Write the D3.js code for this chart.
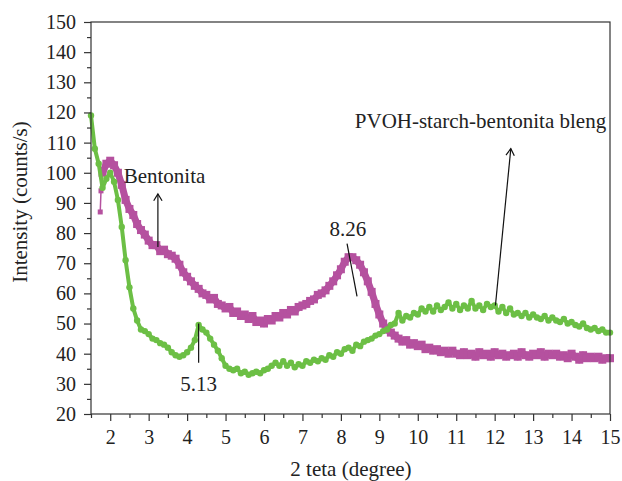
<!DOCTYPE html>
<html>
<head>
<meta charset="utf-8">
<script src="https://cdn.jsdelivr.net/npm/d3@7"></script>
<style>
  body { margin: 0; background: #fff; }
  text { font-family: "Liberation Serif", "DejaVu Serif", serif; fill: #222; }
</style>
</head>
<body>
<div id="chart"></div>
<script>
// x positions (2 teta), 0.1 degree steps
const greenX = d3.range(136).map(i => +(1.5 + i * 0.1).toFixed(2))
const greenY = [
  119, 108, 103, 95, 98, 100, 97, 91, 82, 71,
  62, 55, 51, 48, 47.5, 46.5, 45, 44.5, 43.5, 43,
  42, 40.5, 39.5, 39, 39.5, 40.5, 42, 44.5, 49.5, 48,
  47, 45, 43, 41, 38.5, 36, 35, 34.5, 35, 33.5,
  34, 33, 33.5, 34, 33.5, 34.5, 35, 36, 37, 36,
  37.5, 36, 37, 35.5, 36.5, 36, 37.5, 37, 38, 37.5,
  38.5, 38, 39.5, 39, 40.5, 40, 41.5, 42, 41, 43,
  42.5, 44, 44.5, 45, 46, 46.5, 47.5, 48, 49.5, 50,
  53.5, 51, 52.5, 52, 53.5, 53, 55, 54, 55.5, 54,
  56, 54.5, 55.5, 57, 55, 56.5, 54.5, 56, 55, 57.5,
  55, 56, 54.5, 56.5, 55.5, 56, 54, 55.5, 53.5, 55,
  53, 53.5, 52.5, 53.5, 52, 53, 52, 51.5, 52.5, 51,
  52, 51, 50.5, 51.5, 50, 50.5, 49.5, 49, 50, 48.5,
  48, 48.5, 47.5, 48, 47, 47
]

const magentaX = [1.74, 1.76].concat(d3.range(133).map(i => +(1.8 + i * 0.1).toFixed(2)))
const magentaY = [
  87, 94,
  100, 103, 104, 102.5, 100, 96, 91, 88, 86, 83,
  81, 79.5, 77.5, 76, 76, 74, 74.5, 73, 72.5, 71.5,
  69.5, 67, 65.5, 64, 62.5, 61.5, 60, 59.5, 58, 58.5,
  56.5, 56, 55, 55.5, 53.5, 54, 52.5, 53, 51.5, 52.5,
  50.5, 51, 50, 51.5, 51, 52.5, 52, 53.5, 53, 54.5,
  54, 55.5, 56, 56.5, 57.5, 58, 59.5, 60, 61, 62.5,
  64, 66, 68, 70.5, 72, 72, 71, 69.5, 67, 64,
  60.5, 56.5, 53, 50, 48, 47, 46, 45, 44, 44.5,
  43, 43.5, 42.5, 43, 41.5, 42, 41, 41.5, 40.5, 41,
  40, 41, 40, 39.5, 40.5, 39.5, 40, 39, 40.5, 39.5,
  40, 39, 40.5, 39.5, 40, 39, 39.5, 40, 39, 40.5,
  39.5, 39, 40, 39.5, 40.5, 39, 40, 39.5, 40, 39,
  39.5, 38.5, 40, 39, 38, 39.5, 38.5, 39, 38.5, 39,
  38, 38.5, 38.5
]

const xTicks = d3.range(2, 16)
const yTicks = d3.range(20, 151, 10)

const W = 622, H = 481
const margin = { top: 22, right: 12, bottom: 67, left: 91 }
const width = W - margin.left - margin.right
const height = H - margin.top - margin.bottom

const svg = d3.select('#chart').append('svg')
  .attr('width', W)
  .attr('height', H)

const g = svg.append('g')
  .attr('transform', 'translate(' + margin.left + ',' + margin.top + ')')

const x = d3.scaleLinear().domain([1.5, 15]).range([0, width])
const y = d3.scaleLinear().domain([20, 150]).range([height, 0])

const magColor = '#b5519f'
const grnColor = '#6cbf45'

const magData = magentaX.map((v, i) => [v, magentaY[i]])
const grnData = greenX.map((v, i) => [v, greenY[i]])

const line = d3.line().x(d => x(d[0])).y(d => y(d[1]))

// bentonita (magenta squares) - thin lead-in then thick band
g.append('path')
  .datum(magData.slice(0, 3))
  .attr('fill', 'none')
  .attr('stroke', magColor)
  .attr('stroke-width', 1.5)
  .attr('d', line)

g.append('path')
  .datum(magData.slice(2))
  .attr('fill', 'none')
  .attr('stroke', magColor)
  .attr('stroke-width', 7)
  .attr('stroke-linejoin', 'round')
  .attr('d', line)

g.selectAll('.msq')
  .data(magData.slice(2))
  .enter()
  .append('rect')
  .attr('class', 'msq')
  .attr('x', d => x(d[0]) - 4)
  .attr('y', d => y(d[1]) - 4)
  .attr('width', 8)
  .attr('height', 8)
  .attr('fill', magColor)

g.selectAll('.msq0')
  .data(magData.slice(0, 2))
  .enter()
  .append('rect')
  .attr('x', d => x(d[0]) - 2.5)
  .attr('y', d => y(d[1]) - 2.5)
  .attr('width', 5)
  .attr('height', 5)
  .attr('fill', magColor)

// blend (green dots)
g.append('path')
  .datum(grnData)
  .attr('fill', 'none')
  .attr('stroke', grnColor)
  .attr('stroke-width', 4)
  .attr('stroke-linejoin', 'round')
  .attr('d', line)

g.selectAll('.gdot')
  .data(grnData)
  .enter()
  .append('circle')
  .attr('cx', d => x(d[0]))
  .attr('cy', d => y(d[1]))
  .attr('r', 3.2)
  .attr('fill', grnColor)

// frame
g.append('rect')
  .attr('width', width)
  .attr('height', height)
  .attr('fill', 'none')
  .attr('stroke', '#333')
  .attr('stroke-width', 1.2)

// axes
const xAxis = d3.axisBottom(x).tickValues(xTicks).tickSize(7).tickPadding(9).tickFormat(d3.format('d'))
const xMinor = d3.axisBottom(x).tickValues(d3.range(1.5, 15, 1)).tickSize(4).tickFormat('')
const yAxis = d3.axisLeft(y).tickValues(yTicks).tickSize(7).tickPadding(8)
const yMinor = d3.axisLeft(y).tickValues(d3.range(25, 150, 10)).tickSize(4).tickFormat('')

function styleAxis(sel) {
  sel.select('.domain').remove()
  sel.selectAll('line').attr('stroke', '#333').attr('stroke-width', 1.2)
  sel.selectAll('text').style('font-size', '20px').attr('fill', '#222')
    .style('font-family', '"Liberation Serif", serif')
}

g.append('g').attr('transform', 'translate(0,' + height + ')').call(xAxis).call(styleAxis)
g.append('g').attr('transform', 'translate(0,' + height + ')').call(xMinor).call(styleAxis)
g.append('g').call(yAxis).call(styleAxis)
g.append('g').call(yMinor).call(styleAxis)

// axis titles
svg.append('text')
  .attr('x', 351)
  .attr('y', 476)
  .attr('text-anchor', 'middle')
  .style('font-size', '21px')
  .text('2 teta (degree)')

svg.append('text')
  .attr('transform', 'translate(27,202) rotate(-90)')
  .attr('text-anchor', 'middle')
  .style('font-size', '21px')
  .text('Intensity (counts/s)')

// annotations
const ann = g.append('g')
function arrow(x1, y1, x2, y2) {
  ann.append('line')
    .attr('x1', x(x1)).attr('y1', y(y1))
    .attr('x2', x(x2)).attr('y2', y(y2))
    .attr('stroke', '#111').attr('stroke-width', 1.2)
  const ang = Math.atan2(y(y2) - y(y1), x(x2) - x(x1))
  const L = 8, a = 0.55
  ann.append('path')
    .attr('d', 'M' + (x(x2) - L * Math.cos(ang - a)) + ',' + (y(y2) - L * Math.sin(ang - a)) +
      'L' + x(x2) + ',' + y(y2) +
      'L' + (x(x2) - L * Math.cos(ang + a)) + ',' + (y(y2) - L * Math.sin(ang + a)))
    .attr('fill', 'none').attr('stroke', '#111').attr('stroke-width', 1.2)
}
function tick(x1, y1, x2, y2) {
  ann.append('line')
    .attr('x1', x(x1)).attr('y1', y(y1))
    .attr('x2', x(x2)).attr('y2', y(y2))
    .attr('stroke', '#111').attr('stroke-width', 1.2)
}
function label(xv, yv, txt, anchor) {
  ann.append('text')
    .attr('x', x(xv)).attr('y', y(yv))
    .attr('text-anchor', anchor || 'start')
    .style('font-size', '21px')
    .text(txt)
}

arrow(3.24, 75.4, 3.24, 93)
label(2.35, 96.5, 'Bentonita')

tick(8.16, 76.5, 8.42, 59)
label(8.18, 79, '8.26', 'middle')

tick(4.3, 50, 4.3, 37)
label(4.3, 27.5, '5.13', 'middle')

arrow(12.02, 56, 12.42, 108)
label(14.9, 115, 'PVOH-starch-bentonita bleng', 'end')
</script>
</body>
</html>
